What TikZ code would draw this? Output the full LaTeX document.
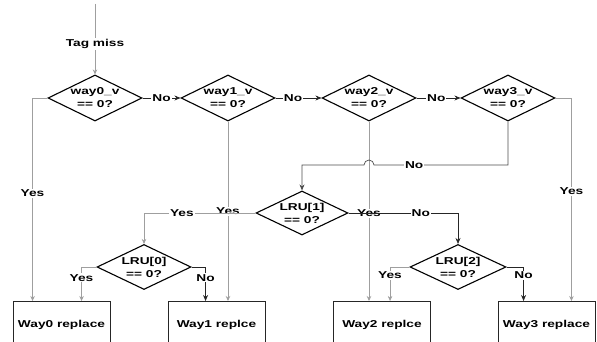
\documentclass[tikz,border=0pt]{standalone}
\usepackage{fontspec}
\setmainfont{Liberation Sans}[FakeStretch=1.37]
\usetikzlibrary{shapes.geometric,arrows.meta,calc}
\begin{document}
\begin{tikzpicture}[x=1pt,y=-1pt,
  txt/.style={font=\fontsize{10}{13}\selectfont\bfseries},
  dec/.style={txt, draw=black, line width=1.1pt, diamond, aspect=2, inner sep=-3.5pt,
              minimum width=94, minimum height=46, align=center},
  box/.style={txt, draw=black!85, line width=0.9pt, rectangle, minimum width=97,
              minimum height=46, anchor=north},
  conn/.style={draw=gray!75, line width=0.7pt, -{Stealth[length=5pt,width=4.5pt]}},
  connb/.style={draw=black!85, line width=0.7pt, -{Stealth[length=6pt,width=5pt]}},
  lab/.style={txt, fill=white, inner sep=1pt}
]
\useasboundingbox (0,0) rectangle (597,342);
\coordinate (start) at (95,4);
\node[dec] (w0) at (95,98) {way0\_v\\== 0?};
\node[dec] (w1) at (228,98) {way1\_v\\== 0?};
\node[dec] (w2) at (369,98) {way2\_v\\== 0?};
\node[dec] (w3) at (508,98) {way3\_v\\== 0?};
\node[dec, minimum width=92, minimum height=44] (l1) at (302,213) {LRU[1]\\== 0?};
\node[dec, minimum height=45] (l0) at (144,267) {LRU[0]\\== 0?};
\node[dec, minimum width=96, minimum height=45] (l2) at (458,267) {LRU[2]\\== 0?};
\node[box] (b0) at (61.5,301) {Way0 replace};
\node[box] (b1) at (216.5,301) {Way1 replce};
\node[box] (b2) at (382,301) {Way2 replce};
\node[box] (b3) at (546.5,301) {Way3 replace};

\draw[conn] (start) -- node[lab, pos=0.57]{Tag miss} (w0.north);
\draw[connb] (w0.east) -- node[lab, pos=0.5]{No} (w1.west);
\draw[connb] (w1.east) -- node[lab, pos=0.38]{No} (w2.west);
\draw[connb] (w2.east) -- node[lab, pos=0.45]{No} (w3.west);

\draw[conn] (w0.west) -| node[lab, pos=0.735]{Yes} ($(b0.north west)+(20,0)$);
\draw[conn] (w1.south) -- node[lab, pos=0.5]{Yes} (w1.south |- b1.north);
\draw[conn] (w2.south) -- node[lab, pos=0.51]{Yes} (w2.south |- b2.north);
\draw[conn] (w3.east) -| node[lab, pos=0.73]{Yes} ($(b3.north east)-(24,0)$);

\draw[connb, draw=black!70] (w3.south) |- node[lab, pos=0.85]{No} (374,165)
   arc[start angle=0, end angle=-180, radius=5] -| (l1.north);

\draw[conn] (l1.west) -| node[lab, pos=0.33]{Yes} (l0.north);
\draw[connb] (l1.east) -| node[lab, pos=0.33]{No} (l2.north);

\draw[conn] (l0.west) -| node[lab, pos=0.66]{Yes} ($(b0.north west)+(69,0)$);
\draw[connb] (l0.east) -| node[lab, pos=0.66]{No} ($(b1.north west)+(38,0)$);
\draw[conn] (l2.west) -| node[lab, pos=0.62]{Yes} ($(b2.north west)+(57,0)$);
\draw[connb] (l2.east) -| node[lab, pos=0.62]{No} ($(b3.north west)+(26,0)$);
\end{tikzpicture}
\end{document}
